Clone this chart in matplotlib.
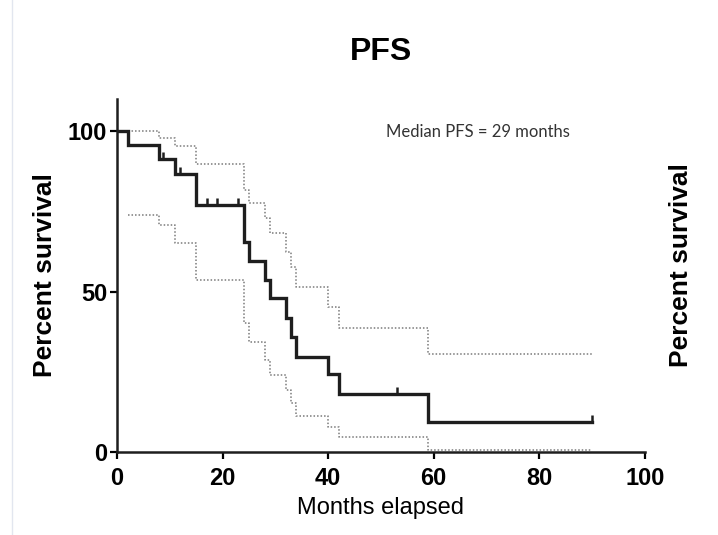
import matplotlib
matplotlib.use("Agg")
import matplotlib.pyplot as plt
from matplotlib.lines import Line2D

## Data (Kaplan-Meier PFS curve)
months = [0, 2, 8, 11, 15, 24, 25, 28, 29, 32, 33, 34, 40, 42, 59, 90]
survival = [100, 95.7, 91.3, 86.7, 77.1, 65.3, 59.6, 53.6, 47.9, 41.7, 35.9,
            29.7, 24.2, 18.0, 9.4, 9.4]

# 95% confidence band (starts at first event)
ci_months = [2, 8, 11, 15, 24, 25, 28, 29, 32, 33, 34, 40, 42, 59, 90]
ci_upper = [100, 97.8, 95.4, 89.7, 81.6, 77.5, 73.0, 68.1, 62.4, 57.7, 51.3,
            45.3, 38.5, 30.7, 30.7]
ci_lower = [73.8, 70.7, 65.0, 53.6, 40.1, 34.4, 28.7, 24.0, 19.3, 15.2, 11.2,
            7.9, 4.8, 0.8, 0.8]

# censored observations
censor_months = [8.7, 12, 17, 19, 23, 53, 90]
censor_surv = [91.3, 86.7, 77.1, 77.1, 77.1, 18.0, 9.4]

x_ticks = [0, 20, 40, 60, 80, 100]
y_ticks = [0, 50, 100]

plt.rcParams['font.family'] = ['Liberation Sans', 'DejaVu Sans']

fig = plt.figure(figsize=(7.18, 5.35), dpi=100)
ax = fig.add_axes([0.163, 0.155, 0.735, 0.66])

# confidence band
ax.step(ci_months, ci_upper, where='post', color='#7a7a7a', lw=1.1,
        linestyle=(0, (1, 1.3)))
ax.step(ci_months, ci_lower, where='post', color='#7a7a7a', lw=1.1,
        linestyle=(0, (1, 1.3)))

# survival curve
ax.step(months, survival, where='post', color='#1e1e1e', lw=2.4,
        solid_joinstyle='miter')
ax.plot(censor_months, censor_surv, linestyle='none', marker=2,
        markersize=5, markeredgewidth=1.8, color='#1e1e1e')

ax.set_xlim(0, 100)
ax.set_ylim(0, 110)
ax.set_xticks(x_ticks)
ax.set_yticks(y_ticks)
ax.tick_params(axis='both', direction='out', length=5, width=1.6,
               labelsize=17)
ax.tick_params(axis='x', pad=6)
ax.tick_params(axis='y', pad=2)
for lab in ax.get_xticklabels() + ax.get_yticklabels():
    lab.set_fontweight('bold')

for side in ['top', 'right']:
    ax.spines[side].set_visible(False)
for side in ['left', 'bottom']:
    ax.spines[side].set_linewidth(1.8)
    ax.spines[side].set_color('#1e1e1e')

ax.set_xlabel('Months elapsed', fontsize=17, labelpad=5)
ax.set_ylabel('Percent survival', fontsize=19, fontweight='bold', labelpad=8)
ax.set_title('PFS', fontsize=23, fontweight='bold', pad=28)

ax.text(0.51, 0.906, 'Median PFS = 29 months', transform=ax.transAxes,
        fontsize=12, family=['Lato', 'DejaVu Sans'], color='#333333',
        ha='left', va='center')

# label of the neighbouring panel, cut off at the right edge
fig.text(0.949, 0.505, 'Percent survival', rotation=90, fontsize=19,
         fontweight='bold', ha='center', va='center')

# faint page edge on the left
fig.add_artist(Line2D([0.017, 0.017], [0.0, 1.0], color='#e2e6ef', lw=1))

fig.savefig('out.png', dpi=100)
